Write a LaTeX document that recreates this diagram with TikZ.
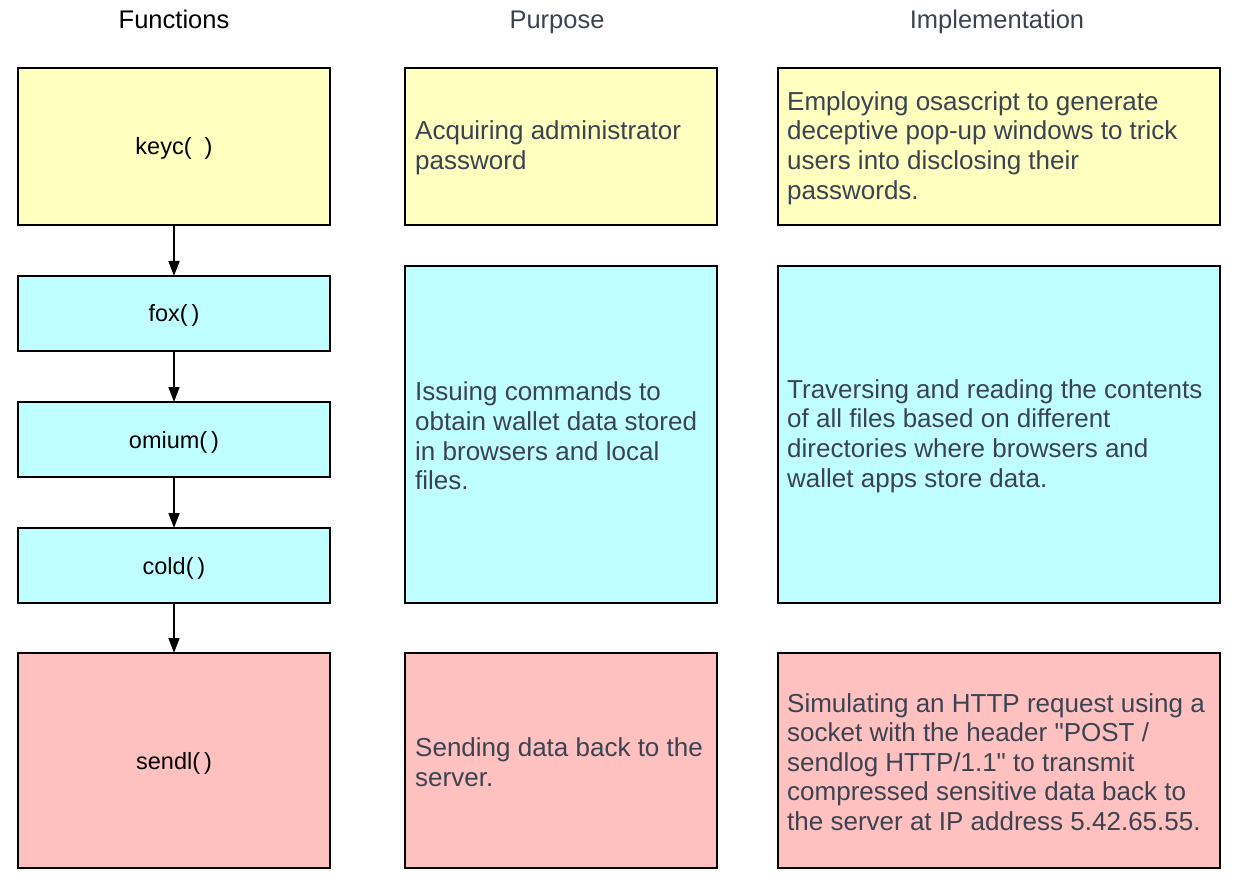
\documentclass[tikz,border=0pt]{standalone}
\usepackage{fontspec}
\setmainfont{Liberation Sans}[Ligatures=TeXOff]
\usetikzlibrary{arrows.meta}
\definecolor{cyel}{HTML}{FFFFC0}
\definecolor{ccyan}{HTML}{C0FFFF}
\definecolor{cpink}{HTML}{FFC0C0}
\definecolor{slate}{HTML}{3B4353}
\tikzset{
  box/.style={draw=black, line width=1.5pt, inner sep=0pt, outer sep=0pt},
  hdr/.style={font=\fontsize{25.5}{30}\selectfont, inner sep=0pt, anchor=base},
  fn/.style={font=\fontsize{23.5}{28}\selectfont, text=black, inner sep=0pt, anchor=base},
  desc/.style={font=\fontsize{26}{29.6}\selectfont, text=slate, align=left, anchor=west, inner sep=0pt},
  conn/.style={line width=1.5pt, -{Triangle[length=15pt,width=11pt]}}
}
\begin{document}
\begin{tikzpicture}[x=1pt,y=-1pt]
\useasboundingbox (0,0) rectangle (1236,882);
% headers
\node[hdr, text=black] (h1) at (174,29) {Functions};
\node[hdr, text=slate] (h2) at (557,29) {Purpose};
\node[hdr, text=slate] (h3) at (997,29) {Implementation};
% function boxes
\filldraw[box, fill=cyel] (18,68) rectangle (330,225);
\filldraw[box, fill=ccyan] (18,276) rectangle (330,351);
\filldraw[box, fill=ccyan] (18,402) rectangle (330,477);
\filldraw[box, fill=ccyan] (18,528) rectangle (330,603);
\filldraw[box, fill=cpink] (18,653) rectangle (330,868);
\coordinate (k1) at (174,225); \coordinate (f0) at (174,276);
\coordinate (f1) at (174,351); \coordinate (o0) at (174,402);
\coordinate (o1) at (174,477); \coordinate (c0) at (174,528);
\coordinate (c1) at (174,603); \coordinate (s0) at (174,653);
\node[fn] (keyc) at (174,155) {keyc(\ \ )};
\node[fn] (fox) at (174,322) {fox(\,)};
\node[fn] (omium) at (174,448) {omium(\,)};
\node[fn] (cold) at (174,574) {cold(\,)};
\node[fn] (sendl) at (174,769) {sendl(\,)};
\draw[conn] (k1) -- (f0);
\draw[conn] (f1) -- (o0);
\draw[conn] (o1) -- (c0);
\draw[conn] (c1) -- (s0);
% purpose boxes
\filldraw[box, fill=cyel] (405,68) rectangle (717,225);
\filldraw[box, fill=ccyan] (405,266) rectangle (717,603);
\filldraw[box, fill=cpink] (405,653) rectangle (717,868);
\node[desc] (p1) at (415,148) {Acquiring administrator\\password};
\node[desc] (p2) at (415,436) {Issuing commands to\\obtain wallet data stored\\in browsers and local\\files.};
\node[desc] (p3) at (415,762) {Sending data back to the\\server.};
% implementation boxes
\filldraw[box, fill=cyel] (778,68) rectangle (1220,225);
\filldraw[box, fill=ccyan] (778,266) rectangle (1220,603);
\filldraw[box, fill=cpink] (778,653) rectangle (1220,868);
\node[desc] (i1) at (787,148) {Employing osascript to generate\\deceptive pop-up windows to trick\\users into disclosing their\\passwords.};
\node[desc] (i2) at (787,436) {Traversing and reading the contents\\of all files based on different\\directories where browsers and\\wallet apps store data.};
\node[desc] (i3) at (787,762) {Simulating an HTTP request using a\\socket with the header "POST /\\sendlog HTTP/1.1" to transmit\\compressed sensitive data back to\\the server at IP address 5.42.65.55.};
\end{tikzpicture}
\end{document}
